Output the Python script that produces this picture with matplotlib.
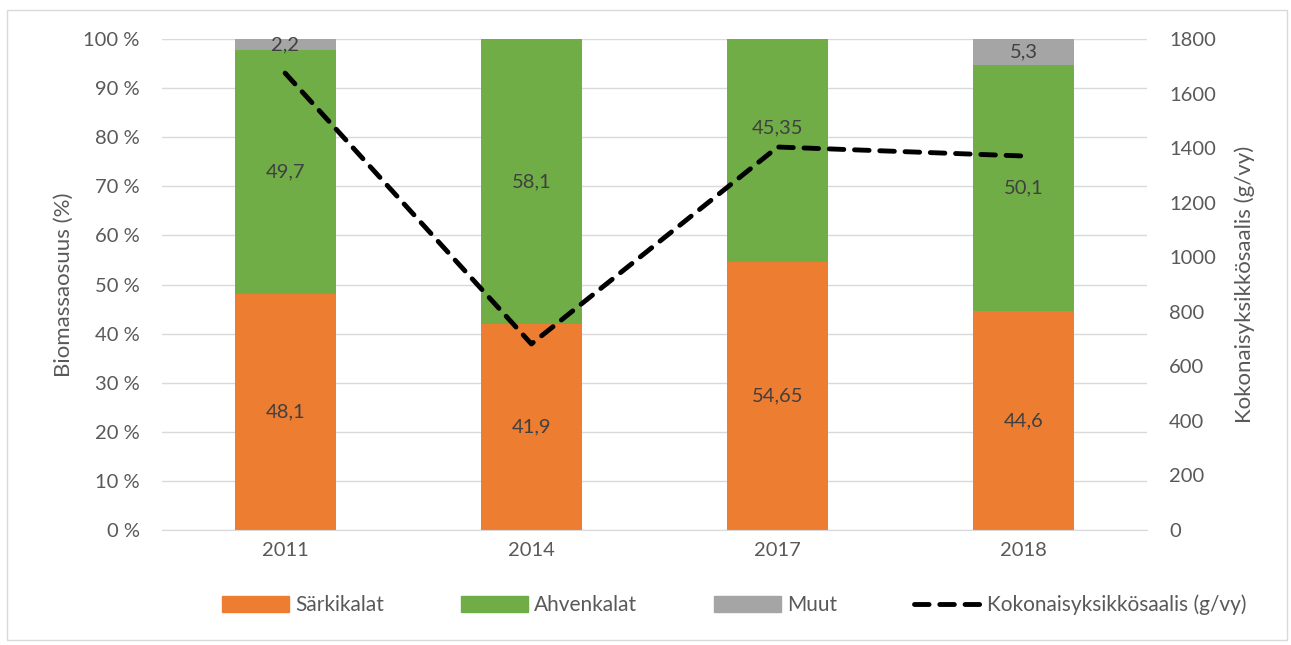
import matplotlib
matplotlib.use("Agg")
import matplotlib.pyplot as plt
from matplotlib.patches import Rectangle
from matplotlib.lines import Line2D
import numpy as np

years = ["2011", "2014", "2017", "2018"]
sarkikalat = [48.1, 41.9, 54.65, 44.6]
ahvenkalat = [49.7, 58.1, 45.35, 50.1]
muut = [2.2, 0.0, 0.0, 5.3]
kokonais = [1675, 682, 1404, 1371]

sarki_labels = ["48,1", "41,9", "54,65", "44,6"]
ahven_labels = ["49,7", "58,1", "45,35", "50,1"]
muut_labels = ["2,2", "", "", "5,3"]
# label lifted above the line where it would otherwise overlap
ahven_label_y = [None, None, 82.0, None]

plt.rcParams["font.family"] = ["Lato", "DejaVu Sans"]

ORANGE = "#ED7D31"
GREEN = "#70AD47"
GREY = "#A5A5A5"
TXT = "#595959"
LBL = "#404040"
FS = 14.5
DASH = (0, (3.0, 2.2))

fig = plt.figure(figsize=(12.91, 6.45), dpi=100)
fig.patches.append(Rectangle((7 / 1291, 1 - 640 / 645), 1280 / 1291, 630 / 645,
                             transform=fig.transFigure, fill=False,
                             edgecolor="#D9D9D9", linewidth=1))

ax = fig.add_axes([162 / 1291, 1 - 530 / 645, 985 / 1291, 491 / 645])
x = np.arange(len(years))
w = 0.41

ax.bar(x, sarkikalat, w, color=ORANGE, zorder=2)
ax.bar(x, ahvenkalat, w, bottom=sarkikalat, color=GREEN, zorder=2)
bottom2 = np.array(sarkikalat) + np.array(ahvenkalat)
ax.bar(x, muut, w, bottom=bottom2, color=GREY, zorder=2)

for i in range(len(years)):
    ax.text(x[i], sarkikalat[i] / 2, sarki_labels[i], ha="center", va="center",
            fontsize=FS, color=LBL, zorder=4)
    ya = ahven_label_y[i]
    if ya is None:
        ya = sarkikalat[i] + ahvenkalat[i] / 2
    ax.text(x[i], ya, ahven_labels[i], ha="center",
            va="center", fontsize=FS, color=LBL, zorder=4)
    if muut_labels[i]:
        ax.text(x[i], bottom2[i] + muut[i] / 2, muut_labels[i], ha="center",
                va="center", fontsize=FS, color=LBL, zorder=4)

ax.set_xlim(-0.5, len(years) - 0.5)
ax.set_ylim(0, 100)
ax.set_yticks(np.arange(0, 101, 10))
ax.set_yticklabels([f"{v} %" for v in range(0, 101, 10)])
ax.set_xticks(x)
ax.set_xticklabels(years)
ax.grid(axis="y", color="#D9D9D9", linewidth=1, zorder=0)
ax.set_axisbelow(True)
for s in ax.spines.values():
    s.set_visible(False)
ax.spines["bottom"].set_visible(True)
ax.spines["bottom"].set_color("#D9D9D9")
ax.tick_params(axis="y", length=0, labelsize=FS, colors=TXT, pad=16)
ax.tick_params(axis="x", length=0, labelsize=FS, colors=TXT, pad=9)
ax.set_ylabel("Biomassaosuus (%)", fontsize=16, color=TXT, labelpad=7)

ax2 = ax.twinx()
ax2.set_ylim(0, 1800)
ax2.set_yticks(np.arange(0, 1801, 200))
ax2.plot(x, kokonais, color="black", linewidth=3.5, linestyle=DASH,
         dash_capstyle="round", zorder=5)
for s in ax2.spines.values():
    s.set_visible(False)
ax2.tick_params(axis="y", length=0, labelsize=FS, colors=TXT, pad=16)
ax2.set_ylabel("Kokonaisyksikkösaalis (g/vy)", fontsize=16, color=TXT, labelpad=13)

handles = [
    Rectangle((0, 0), 1, 1, color=ORANGE),
    Rectangle((0, 0), 1, 1, color=GREEN),
    Rectangle((0, 0), 1, 1, color=GREY),
    Line2D([0], [0], color="black", linewidth=3.5, linestyle=DASH,
           dash_capstyle="round"),
]
names = ["Särkikalat", "Ahvenkalat", "Muut", "Kokonaisyksikkösaalis (g/vy)"]
leg = fig.legend(handles, names, loc="center left",
                 bbox_to_anchor=(222 / 1291, 1 - 605 / 645),
                 ncol=4, frameon=False, fontsize=15, handlelength=3.2,
                 handleheight=0.75, columnspacing=3.7, handletextpad=0.3,
                 borderaxespad=0, borderpad=0)
for t in leg.get_texts():
    t.set_color(TXT)

fig.savefig("out.png", dpi=100)
